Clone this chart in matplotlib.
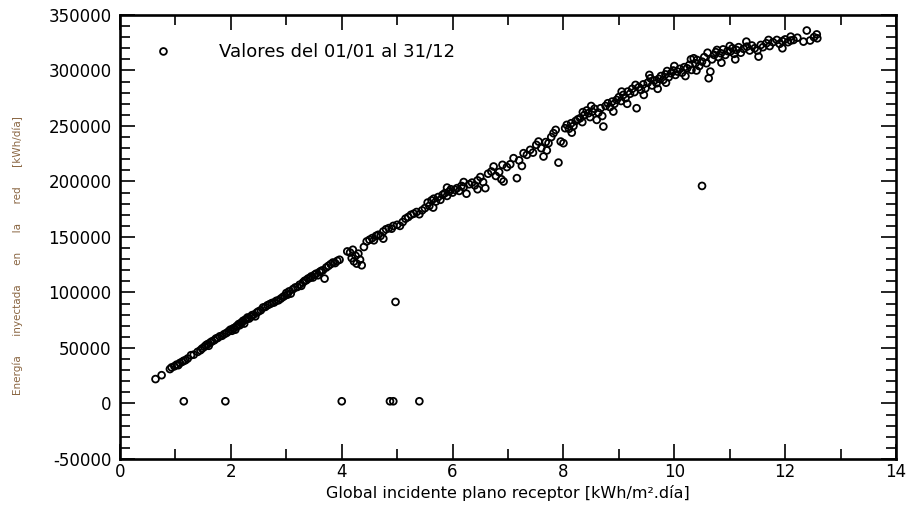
import matplotlib
matplotlib.use("Agg")
import matplotlib.pyplot as plt
from matplotlib.ticker import MultipleLocator

# irradiacion global diaria [kWh/m2.dia] y energia inyectada [kWh/dia]
irr_invierno = [0.64, 0.75, 0.90, 0.93, 0.98, 1.02, 1.05, 1.08, 1.12, 1.15, 1.18, 1.22,
                1.28, 1.33, 1.40, 1.45, 1.48, 1.52, 1.55, 1.58, 1.60, 1.63, 1.66, 1.70,
                1.73, 1.76, 1.80, 1.84, 1.88, 1.92, 1.96, 1.99]
ener_invierno = [22000, 25500, 31000, 32500, 33500, 35000, 34500, 36500, 37500, 38500, 39000, 40500,
                 43500, 44000, 46500, 48000, 49500, 51000, 52500, 53500, 52000, 55000, 56000, 57000,
                 58500, 59000, 60500, 61000, 62500, 63500, 65000, 66500]

irr_baja = [2.02, 2.04, 2.06, 2.08, 2.10, 2.12, 2.14, 2.16, 2.18, 2.20, 2.22, 2.24, 2.26, 2.28,
            2.30, 2.33, 2.36, 2.38, 2.41, 2.44, 2.47, 2.50, 2.54, 2.58, 2.62, 2.66, 2.70, 2.74,
            2.78, 2.82, 2.86, 2.90, 2.94, 2.97, 3.00, 3.02, 3.05, 3.08, 3.12, 3.16, 3.20, 3.24,
            3.27, 3.30, 3.33, 3.36, 3.39, 3.42, 3.45, 3.48, 3.51, 3.54, 3.57, 3.60, 3.63, 3.66,
            3.69, 3.72, 3.76, 3.80, 3.84, 3.88, 3.92, 3.96]
ener_baja = [65500, 67500, 68000, 66500, 69500, 70000, 71500, 70500, 72500, 73000, 74500, 72000,
             75500, 76000, 77500, 76500, 78000, 79500, 80000, 78500, 82000, 83000, 84000, 86500,
             87000, 88500, 89500, 90500, 91000, 92500, 93000, 94500, 96000, 97000, 99500, 98000,
             101000, 99000, 103000, 104500, 105000, 107000, 106000, 109000, 110500, 111000, 112500,
             113000, 114500, 113500, 116000, 117000, 115500, 118500, 119500, 120000, 112500, 122500,
             124000, 125500, 127000, 126500, 128500, 129500]

irr_media = [4.10, 4.15, 4.18, 4.20, 4.22, 4.25, 4.27, 4.30, 4.33, 4.36, 4.40, 4.45, 4.50, 4.55,
             4.58, 4.62, 4.66, 4.70, 4.75, 4.80, 4.85, 4.90, 4.93, 5.00, 5.05, 5.10, 5.15, 5.20,
             5.25, 5.30, 5.35, 5.40, 5.45]
ener_media = [137000, 136000, 131000, 138500, 128000, 133000, 126000, 135000, 129500, 124500,
              141000, 146000, 147500, 149000, 147000, 151000, 152000, 151000, 155000, 157000,
              158000, 157500, 160000, 161000, 160000, 163500, 166500, 168000, 170000, 171000,
              172500, 170500, 174000]

irr_prima = [5.50, 5.55, 5.58, 5.62, 5.66, 5.70, 5.74, 5.78, 5.82, 5.86, 5.90, 5.94, 5.97, 6.00,
             6.04, 6.08, 6.12, 6.16, 6.20, 6.25, 6.30, 6.35, 6.40, 6.45, 6.50, 6.55, 6.59, 6.64,
             6.70, 6.74, 6.78, 6.84, 6.88, 6.92, 6.98, 7.04, 7.10, 7.16, 7.20, 7.28, 7.34, 7.40,
             7.45, 7.51, 7.55, 7.60, 7.64, 7.68, 7.73, 7.78, 7.82, 7.86, 7.91, 7.95, 8.00]
ener_prima = [176000, 181000, 178000, 183000, 184500, 182000, 186000, 183500, 188000, 189500,
              187000, 191000, 193000, 190000, 192500, 194000, 191500, 196000, 195000, 189000,
              197500, 199000, 196500, 201000, 204000, 199500, 194000, 207000, 209000, 213500,
              205000, 208500, 202000, 200000, 213000, 215500, 221000, 203000, 219000, 225500,
              224000, 228500, 226000, 233000, 236000, 230000, 222500, 235500, 234500, 240000,
              243500, 246500, 217000, 236000, 234500]

irr_alta = [8.03, 8.06, 8.10, 8.14, 8.18, 8.22, 8.26, 8.30, 8.34, 8.38, 8.42, 8.45, 8.48, 8.52,
            8.56, 8.60, 8.63, 8.67, 8.72, 8.76, 8.80, 8.84, 8.88, 8.92, 8.96, 9.00, 9.04, 9.08,
            9.12, 9.16, 9.20, 9.24, 9.28, 9.32, 9.36, 9.40, 9.44, 9.48, 9.52, 9.57, 9.60, 9.64,
            9.68, 9.72, 9.76, 9.80, 9.84, 9.87, 9.90, 9.94, 9.98]
ener_alta = [248000, 251000, 247500, 252500, 250000, 254500, 256000, 257000, 253500, 260000,
             264000, 261500, 258000, 263000, 265500, 255500, 262000, 266000, 249500, 268000,
             270500, 267000, 272000, 270000, 273500, 276000, 272500, 278000, 275000, 281000,
             279000, 283500, 280500, 266000, 285000, 282500, 287500, 284000, 289000, 293000,
             286500, 291000, 288500, 292500, 295000, 291500, 296500, 299500, 294000, 297500,
             300000]

irr_verano = [10.02, 10.06, 10.10, 10.14, 10.18, 10.23, 10.27, 10.31, 10.35, 10.38, 10.41, 10.45,
              10.50, 10.54, 10.58, 10.62, 10.65, 10.68, 10.72, 10.75, 10.77, 10.80, 10.84, 10.88,
              10.92, 10.96, 11.01, 11.05, 11.08, 11.12, 11.16, 11.20, 11.25, 11.31, 11.36, 11.40,
              11.45, 11.52, 11.56, 11.60, 11.66, 11.72, 11.78, 11.85, 11.90, 11.95, 12.00, 12.05,
              12.10, 12.15, 12.22, 12.33, 12.39, 12.52, 12.57]
ener_verano = [296000, 299000, 301500, 298000, 303000, 302000, 305000, 300500, 311000, 306500,
               309500, 304000, 308000, 312000, 306500, 293000, 299000, 310000, 314000, 316500,
               318500, 312000, 315500, 319000, 314000, 317500, 317000, 320000, 315000, 318500,
               321000, 316000, 319500, 321500, 318000, 322500, 320000, 312500, 323000, 321000,
               324500, 322000, 325500, 327500, 324000, 326500, 328000, 325500, 327000, 327500,
               329500, 326000, 336000, 330000, 332500]

# puntos algo separados de la nube principal
irr_dispersos = [8.15, 8.35, 8.50, 8.70, 8.90, 9.05, 9.15, 9.30, 9.45, 9.55, 9.70, 9.85,
                 10.00, 10.20, 10.30, 10.40, 10.60, 10.85, 11.00, 11.10, 11.30, 11.50, 11.70,
                 11.95, 12.10, 12.45, 12.58, 6.20, 6.45, 6.90, 7.25, 7.70, 5.65, 5.90, 4.75]
ener_dispersos = [244000, 262500, 268000, 259000, 263000, 281000, 270000, 287000, 278000,
                  296000, 283500, 289000, 304000, 295000, 310000, 300000, 316000, 307000,
                  322000, 310000, 326000, 318000, 327500, 320000, 330500, 327000, 329000,
                  199500, 193000, 215000, 214000, 228000, 176500, 194500, 148500]

# dias anomalos (paradas / fallos)
irr_anomalos = [1.15, 1.90, 4.00, 4.87, 4.93, 5.40, 4.97, 10.50]
ener_anomalos = [2000, 2000, 2000, 2000, 2000, 2000, 91500, 196000]

irr = (irr_invierno + irr_baja + irr_media + irr_prima + irr_alta + irr_verano
       + irr_dispersos + irr_anomalos)
ener = (ener_invierno + ener_baja + ener_media + ener_prima + ener_alta + ener_verano
        + ener_dispersos + ener_anomalos)

plt.rcParams['font.family'] = ['DejaVu Sans']
plt.rcParams['axes.unicode_minus'] = False

fig = plt.figure(figsize=(9.08, 5.22), dpi=100)
ax = fig.add_axes([0.1322, 0.1207, 0.8546, 0.8506])

ax.scatter(irr, ener, s=24, facecolors='none', edgecolors='black', linewidths=1.3,
           label="Valores del 01/01 al 31/12")

ax.set_xlim(0, 14)
ax.set_ylim(-50000, 350000)
ax.xaxis.set_major_locator(MultipleLocator(2))
ax.xaxis.set_minor_locator(MultipleLocator(1))
ax.yaxis.set_major_locator(MultipleLocator(50000))
ax.yaxis.set_minor_locator(MultipleLocator(10000))
ax.ticklabel_format(style='plain', useOffset=False)

ax.tick_params(which='both', direction='in', top=True, right=True, width=1.2, colors='black')
ax.tick_params(which='major', length=11)
ax.tick_params(which='minor', length=7)
ax.tick_params(axis='x', which='major', labelsize=12, pad=3)
ax.tick_params(axis='y', which='major', labelsize=12, pad=6)
for sp in ax.spines.values():
    sp.set_linewidth(1.9)

ax.set_xlabel("Global incidente plano receptor [kWh/m².día]", fontsize=11.5, labelpad=3)
fig.text(0.02, 0.51, "Energía      inyectada      en      la      red      [kWh/día]",
         rotation=90, fontsize=7.5, color='#8a6642', ha='center', va='center')

ax.legend(loc='upper left', bbox_to_anchor=(0.035, 0.955), frameon=False, fontsize=13,
          handletextpad=2.6, handlelength=1.0, borderaxespad=0, scatterpoints=1)

fig.savefig("out.png", dpi=100)
